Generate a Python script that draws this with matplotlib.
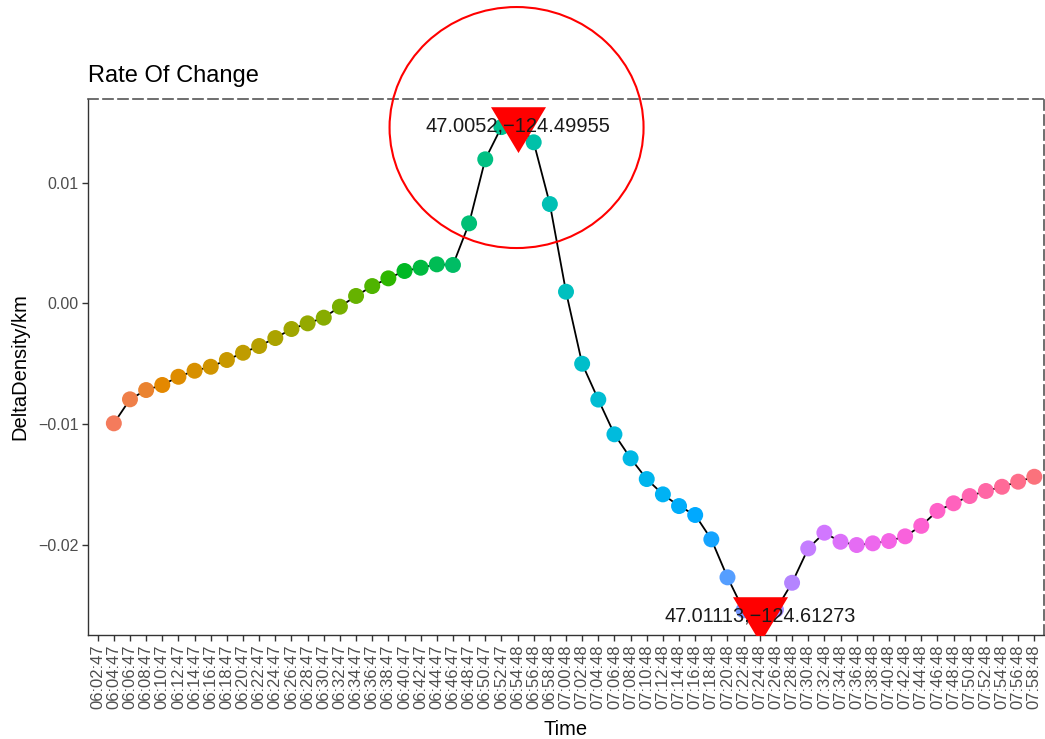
import numpy as np
import matplotlib
matplotlib.use("Agg")
import matplotlib.pyplot as plt
from matplotlib.patches import Ellipse
from matplotlib.transforms import IdentityTransform

plt.rcParams['font.family'] = ['Liberation Sans', 'DejaVu Sans']

# sample times (one every two minutes)
times = ["06:02:47", "06:04:47", "06:06:47", "06:08:47", "06:10:47", "06:12:47",
         "06:14:47", "06:16:47", "06:18:47", "06:20:47", "06:22:47", "06:24:47",
         "06:26:47", "06:28:47", "06:30:47", "06:32:47", "06:34:47", "06:36:47",
         "06:38:47", "06:40:47", "06:42:47", "06:44:47", "06:46:47", "06:48:47",
         "06:50:47", "06:52:47", "06:54:48", "06:56:48", "06:58:48", "07:00:48",
         "07:02:48", "07:04:48", "07:06:48", "07:08:48", "07:10:48", "07:12:48",
         "07:14:48", "07:16:48", "07:18:48", "07:20:48", "07:22:48", "07:24:48",
         "07:26:48", "07:28:48", "07:30:48", "07:32:48", "07:34:48", "07:36:48",
         "07:38:48", "07:40:48", "07:42:48", "07:44:48", "07:46:48", "07:48:48",
         "07:50:48", "07:52:48", "07:54:48", "07:56:48", "07:58:48"]

# rate of change of density per km (first sample has no previous value)
delta = [np.nan,
         -0.00995, -0.00796, -0.00719, -0.00677, -0.00609, -0.00559, -0.00526,
         -0.00470, -0.00410, -0.00354, -0.00288, -0.00213, -0.00166, -0.00119,
         -0.00028, 0.00061, 0.00143, 0.00207, 0.00268, 0.00295, 0.00323,
         0.00318, 0.00663, 0.01194, 0.01461, 0.01503, 0.01335, 0.00823,
         0.00096, -0.00501, -0.00798, -0.01086, -0.01285, -0.01457, -0.01584,
         -0.01681, -0.01755, -0.01957, -0.02272, -0.02545, -0.02560, -0.02540,
         -0.02317, -0.02032, -0.01902, -0.01977, -0.02004, -0.01990, -0.01971,
         -0.01932, -0.01845, -0.01721, -0.01658, -0.01598, -0.01556, -0.01521,
         -0.01479, -0.01438]

# positions at the extreme points
peak_pos = "47.0052,\u2212124.49955"
low_pos = "47.01113,\u2212124.61273"


def hcl(h, c=100.0, l=65.0):
    # polar Luv -> sRGB (same as the default ggplot hue palette)
    hr = np.deg2rad(h)
    u, v = c * np.cos(hr), c * np.sin(hr)
    xn, yn, zn = 95.047, 100.0, 108.883
    y = yn * ((l + 16) / 116) ** 3 if l > 8 else yn * l / 903.3
    un = 4 * xn / (xn + 15 * yn + 3 * zn)
    vn = 9 * yn / (xn + 15 * yn + 3 * zn)
    up = u / (13 * l) + un
    vp = v / (13 * l) + vn
    x = y * 9 * up / (4 * vp)
    z = y * (12 - 3 * up - 20 * vp) / (4 * vp)
    xyz = np.array([x, y, z]) / 100
    m = np.array([[3.2404542, -1.5371385, -0.4985314],
                  [-0.9692660, 1.8760108, 0.0415560],
                  [0.0556434, -0.2040259, 1.0572252]])
    rgb = m @ xyz
    rgb = np.where(rgb <= 0.0031308, 12.92 * rgb, 1.055 * np.abs(rgb) ** (1 / 2.4) - 0.055)
    return tuple(np.clip(rgb, 0, 1))


vals = np.array(delta)
n = len(times)
xs = np.arange(n)
cols = [hcl(15 + 360 * i / n) for i in range(n)]

fig = plt.figure(figsize=(10.45, 7.39), dpi=100)
ax = fig.add_axes([88 / 1045, 1 - 635 / 739, (1044 - 88) / 1045, (635 - 99) / 739])

ax.plot(xs, vals, color='black', lw=1.3, zorder=2)
ax.scatter(xs, vals, c=cols, s=11.5 ** 2, edgecolors='none', zorder=3)

# mark max and min with a down-pointing triangle centred on its centroid
tri = [(-27, 15), (27, 15), (0, -30), (-27, 15)]
imax = int(np.nanargmax(vals))
imin = int(np.nanargmin(vals))
for i, lab, fs in [(imax, peak_pos, 14.5), (imin, low_pos, 14.3)]:
    ax.plot(xs[i], vals[i], marker=tri, ms=44, color='#FF0000', mec='none',
            zorder=4, clip_on=True)
    ax.annotate(lab, (xs[i], vals[i]), xytext=(0, -3), textcoords='offset points',
                ha='center', va='center', fontsize=fs, color='#1a1a1a', zorder=5)

ax.set_xlim(-0.6, n - 0.4)
ax.set_ylim(-0.0275, 0.01694)
ax.set_xticks(xs)
ax.set_xticklabels(times, rotation=90, fontsize=12, color='#4d4d4d')
ax.set_yticks([-0.02, -0.01, 0.0, 0.01])
ax.set_yticklabels(['\u22120.02', '\u22120.01', '0.00', '0.01'], fontsize=11.5, color='#4d4d4d')
ax.tick_params(axis='both', length=4, width=1, color='#333333', pad=3)

ax.set_title("Rate Of Change", loc='left', fontsize=17, pad=12)
ax.set_xlabel("Time", fontsize=14.5)
ax.set_ylabel("DeltaDensity/km", fontsize=14.5)
ax.xaxis.set_label_coords(0.5, -0.158)
ax.yaxis.set_label_coords(-0.061, 0.5)

for s in ['left', 'bottom']:
    ax.spines[s].set_color('#333333')
    ax.spines[s].set_linewidth(1.0)
for s in ['top', 'right']:
    ax.spines[s].set_color('#555555')
    ax.spines[s].set_linewidth(1.2)
    ax.spines[s].set_linestyle((0, (6, 3)))

# highlight around the peak
fig.canvas.draw()
px, py = ax.transData.transform((xs[imax], vals[imax]))
fig.add_artist(Ellipse((px - 1, py - 5.5), 254, 241, transform=IdentityTransform(),
                       fill=False, ec='#FF0000', lw=1.5, zorder=10))

fig.savefig("out.png", dpi=100)
